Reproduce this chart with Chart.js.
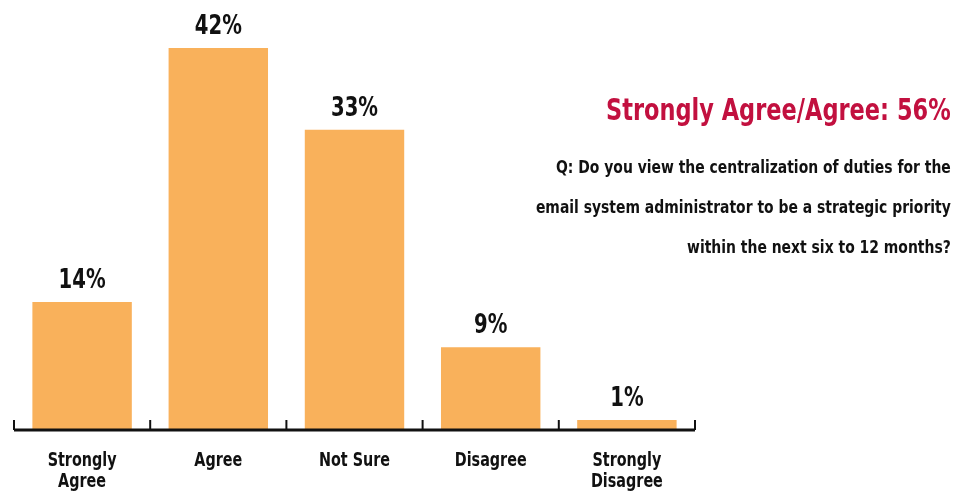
<!DOCTYPE html>
<html>
<head>
<meta charset="utf-8">
<script src="https://cdn.jsdelivr.net/npm/chart.js@4.4.0/dist/chart.umd.min.js"></script>
<style>
  html, body { margin: 0; padding: 0; background: #fff; }
  #wrap { position: relative; width: 969px; height: 494px; overflow: hidden; }
  #chart { position: absolute; left: 0; top: 0; }
  .txt { position: absolute; right: 18px; text-align: right; white-space: nowrap;
         font-family: "Liberation Sans Narrow", "DejaVu Sans Condensed", sans-serif; font-weight: bold;
         transform-origin: right top; }
  #headline { top: 91px; font-size: 31px; line-height: normal; color: #C2103F; transform: scaleX(0.806); }
  #question { top: 147px; font-size: 17.5px; line-height: 40px; color: #111; transform: scaleX(0.885); }
</style>
</head>
<body>
<div id="wrap">
  <canvas id="chart" width="969" height="494"></canvas>
  <div id="headline" class="txt">Strongly Agree/Agree: 56%</div>
  <div id="question" class="txt">Q: Do you view the centralization of duties for the<br>email system administrator to be a strategic priority<br>within the next six to 12 months?</div>
</div>
<script>
// responses, in percent
const answer_labels = [['Strongly', 'Agree'], ['Agree'], ['Not Sure'], ['Disagree'], ['Strongly', 'Disagree']]
const answer_values = [14, 42, 33, 9, 1]

const font_family = '"Liberation Sans Narrow", "DejaVu Sans Condensed", sans-serif'
const squeeze = 0.84   // condensed look for the text drawn on canvas

function narrow_text(ctx, text, x, y) {
  ctx.save()
  ctx.translate(x, y)
  ctx.scale(squeeze, 1)
  ctx.fillText(text, 0, 0)
  ctx.restore()
}

// value labels above each bar
const value_label_plugin = {
  id: 'value_labels',
  afterDatasetsDraw(chart) {
    const ctx = chart.ctx
    const meta = chart.getDatasetMeta(0)
    ctx.save()
    ctx.fillStyle = '#111'
    ctx.font = 'bold 26px ' + font_family
    ctx.textAlign = 'center'
    ctx.textBaseline = 'alphabetic'
    meta.data.forEach((bar, i) => {
      narrow_text(ctx, answer_values[i] + '%', bar.x, bar.y - 14)
    })
    ctx.restore()
  }
}

// baseline with upward tick marks between categories, plus category names
const axis_plugin = {
  id: 'bottom_axis',
  afterDatasetsDraw(chart) {
    const ctx = chart.ctx
    const area = chart.chartArea
    const x_scale = chart.scales.x
    const y0 = area.bottom + 1
    ctx.save()
    ctx.strokeStyle = '#111'
    ctx.lineWidth = 3
    ctx.beginPath()
    ctx.moveTo(area.left, y0)
    ctx.lineTo(area.right, y0)
    ctx.stroke()
    const edges = [area.left]
    for (let i = 0; i < answer_values.length - 1; i++) {
      edges.push((x_scale.getPixelForValue(i) + x_scale.getPixelForValue(i + 1)) / 2)
    }
    edges.push(area.right)
    ctx.lineWidth = 2
    edges.forEach(x => {
      ctx.beginPath()
      ctx.moveTo(x, y0 - 10)
      ctx.lineTo(x, y0)
      ctx.stroke()
    })

    ctx.fillStyle = '#111'
    ctx.font = 'bold 19px ' + font_family
    ctx.textAlign = 'center'
    ctx.textBaseline = 'alphabetic'
    answer_labels.forEach((lines, i) => {
      const x = x_scale.getPixelForValue(i)
      lines.forEach((line, j) => {
        narrow_text(ctx, line, x, area.bottom + 37 + j * 21)
      })
    })
    ctx.restore()
  }
}

const ctx = document.getElementById('chart').getContext('2d')
const chart = new Chart(ctx, {
  type: 'bar',
  data: {
    labels: answer_labels.map(l => l.join(' ')),
    datasets: [{
      data: answer_values,
      backgroundColor: '#F9B15B',
      borderWidth: 0,
      barPercentage: 0.73,
      categoryPercentage: 1.0
    }]
  },
  options: {
    responsive: false,
    animation: false,
    layout: { padding: { left: 14, right: 274, top: 0, bottom: 0 } },
    plugins: {
      legend: { display: false },
      tooltip: { enabled: false }
    },
    scales: {
      x: {
        grid: { display: false, drawTicks: false },
        border: { display: false },
        ticks: { display: false },
        afterFit(scale) { scale.height = 65 }
      },
      y: {
        display: false,
        min: 0,
        max: 47.3
      }
    }
  },
  plugins: [value_label_plugin, axis_plugin]
})
</script>
</body>
</html>
